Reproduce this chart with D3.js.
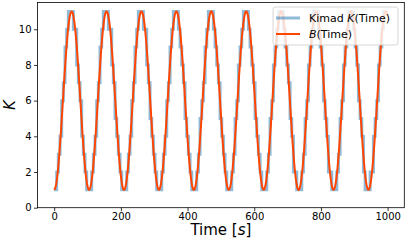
<!DOCTYPE html>
<html>
<head>
<meta charset="utf-8">
<script src="https://cdn.jsdelivr.net/npm/d3@7"></script>
<style>
  html, body { margin: 0; padding: 0; background: #fff; }
  svg { display: block; font-family: "DejaVu Sans", sans-serif; }
  .tick text { font-size: 10px; fill: #000; }
</style>
</head>
<body>
<div id="chart"></div>
<script>
// Time samples [s]
const time = [
  0, 5, 10, 15, 20, 25, 30, 35, 40, 45, 50, 55, 60, 65, 70, 75, 80, 85, 90, 95,
  100, 105, 110, 115, 120, 125, 130, 135, 140, 145, 150, 155, 160, 165, 170, 175, 180, 185, 190, 195,
  200, 205, 210, 215, 220, 225, 230, 235, 240, 245, 250, 255, 260, 265, 270, 275, 280, 285, 290, 295,
  300, 305, 310, 315, 320, 325, 330, 335, 340, 345, 350, 355, 360, 365, 370, 375, 380, 385, 390, 395,
  400, 405, 410, 415, 420, 425, 430, 435, 440, 445, 450, 455, 460, 465, 470, 475, 480, 485, 490, 495,
  500, 505, 510, 515, 520, 525, 530, 535, 540, 545, 550, 555, 560, 565, 570, 575, 580, 585, 590, 595,
  600, 605, 610, 615, 620, 625, 630, 635, 640, 645, 650, 655, 660, 665, 670, 675, 680, 685, 690, 695,
  700, 705, 710, 715, 720, 725, 730, 735, 740, 745, 750, 755, 760, 765, 770, 775, 780, 785, 790, 795,
  800, 805, 810, 815, 820, 825, 830, 835, 840, 845, 850, 855, 860, 865, 870, 875, 880, 885, 890, 895,
  900, 905, 910, 915, 920, 925, 930, 935, 940, 945, 950, 955, 960, 965, 970, 975, 980, 985, 990, 995,
  1000
];

// B(Time), smooth curve
const bValues = [
  1.00, 1.22, 1.87, 2.89, 4.19, 5.65, 7.14, 8.52, 9.69, 10.52, 10.95, 10.94, 10.48, 9.63, 8.45, 7.05, 5.56, 4.11, 2.83, 1.83, 1.20,
  1.00, 1.25, 1.92, 2.96, 4.27, 5.73, 7.22, 8.60, 9.74, 10.56, 10.96, 10.92, 10.45, 9.57, 8.38, 6.97, 5.48, 4.03, 2.76, 1.78, 1.18,
  1.00, 1.28, 1.97, 3.03, 4.35, 5.81, 7.30, 8.67, 9.80, 10.59, 10.97, 10.91, 10.41, 9.51, 8.30, 6.89, 5.40, 3.96, 2.70, 1.74, 1.15,
  1.01, 1.30, 2.02, 3.09, 4.43, 5.90, 7.38, 8.74, 9.85, 10.62, 10.98, 10.89, 10.37, 9.45, 8.23, 6.81, 5.31, 3.88, 2.64, 1.69, 1.13,
  1.01, 1.33, 2.07, 3.16, 4.51, 5.98, 7.46, 8.81, 9.91, 10.65, 10.99, 10.87, 10.32, 9.39, 8.15, 6.72, 5.23, 3.80, 2.57, 1.65, 1.12,
  1.02, 1.36, 2.13, 3.23, 4.59, 6.07, 7.54, 8.88, 9.96, 10.68, 10.99, 10.85, 10.28, 9.33, 8.08, 6.64, 5.15, 3.73, 2.51, 1.61, 1.10,
  1.03, 1.40, 2.18, 3.30, 4.67, 6.15, 7.62, 8.95, 10.01, 10.71, 11.00, 10.83, 10.24, 9.26, 8.00, 6.56, 5.06, 3.65, 2.45, 1.57, 1.08,
  1.03, 1.43, 2.23, 3.37, 4.75, 6.23, 7.70, 9.01, 10.06, 10.74, 11.00, 10.81, 10.19, 9.20, 7.92, 6.47, 4.98, 3.58, 2.39, 1.53, 1.07,
  1.05, 1.46, 2.29, 3.45, 4.83, 6.32, 7.78, 9.08, 10.11, 10.77, 11.00, 10.79, 10.15, 9.14, 7.84, 6.39, 4.90, 3.51, 2.34, 1.49, 1.06,
  1.06, 1.50, 2.35, 3.52, 4.91, 6.40, 7.86, 9.15, 10.15, 10.79, 11.00, 10.76
];

// Kimad K(Time), integer steps
const kValues = [
  1, 1, 2, 3, 4, 6, 7, 9, 10, 11, 11, 11, 10, 10, 8, 7, 6, 4, 3, 2, 1,
  1, 1, 2, 3, 4, 6, 7, 9, 10, 11, 11, 11, 10, 10, 8, 7, 5, 4, 3, 2, 1,
  1, 1, 2, 3, 4, 6, 7, 9, 10, 11, 11, 11, 10, 10, 8, 7, 5, 4, 3, 2, 1,
  1, 1, 2, 3, 4, 6, 7, 9, 10, 11, 11, 11, 10, 9, 8, 7, 5, 4, 3, 2, 1,
  1, 1, 2, 3, 5, 6, 7, 9, 10, 11, 11, 11, 10, 9, 8, 7, 5, 4, 3, 2, 1,
  1, 1, 2, 3, 5, 6, 8, 9, 10, 11, 11, 11, 10, 9, 8, 7, 5, 4, 3, 2, 1,
  1, 1, 2, 3, 5, 6, 8, 9, 10, 11, 11, 11, 10, 9, 8, 7, 5, 4, 2, 2, 1,
  1, 1, 2, 3, 5, 6, 8, 9, 10, 11, 11, 11, 10, 9, 8, 6, 5, 4, 2, 2, 1,
  1, 1, 2, 3, 5, 6, 8, 9, 10, 11, 11, 11, 10, 9, 8, 6, 5, 4, 2, 1, 1,
  1, 2, 2, 4, 5, 6, 8, 9, 10, 11, 11, 11
];

const xTicks = [0, 200, 400, 600, 800, 1000];
const yTicks = [0, 2, 4, 6, 8, 10];

const width = 407;
const height = 242;
const margin = { top: 2.5, right: 2.7, bottom: 34.3, left: 37.5 };

const svg = d3.select("#chart")
  .append("svg")
  .attr("width", width)
  .attr("height", height);

const x = d3.scaleLinear()
  .domain([-50, 1050])
  .range([margin.left, width - margin.right]);

const y = d3.scaleLinear()
  .domain([0, 11.5])
  .range([height - margin.bottom, margin.top]);

// series
const kLine = d3.line()
  .x((d, i) => x(time[i]))
  .y((d) => y(d))
  .curve(d3.curveStep);

const bLine = d3.line()
  .x((d, i) => x(time[i]))
  .y((d) => y(d))
  .curve(d3.curveNatural);

svg.append("path")
  .datum(kValues)
  .attr("fill", "none")
  .attr("stroke", "#1f77b4")
  .attr("stroke-opacity", 0.5)
  .attr("stroke-width", 3)
  .attr("d", kLine);

svg.append("path")
  .datum(bValues)
  .attr("fill", "none")
  .attr("stroke", "#ff4500")
  .attr("stroke-width", 2)
  .attr("d", bLine);

// axes
const xAxis = svg.append("g")
  .attr("transform", `translate(0,${height - margin.bottom})`)
  .call(d3.axisBottom(x).tickValues(xTicks).tickFormat(d3.format("d")).tickSize(3.5).tickPadding(1.5));

const yAxis = svg.append("g")
  .attr("transform", `translate(${margin.left},0)`)
  .call(d3.axisLeft(y).tickValues(yTicks).tickFormat(d3.format("d")).tickSize(3.5).tickPadding(2.5));

[xAxis, yAxis].forEach((g) => {
  g.select(".domain").remove();
  g.selectAll(".tick line").attr("stroke", "#000").attr("stroke-width", 0.8);
  g.selectAll(".tick text").attr("font-family", "DejaVu Sans").attr("font-size", 10);
});

// frame
svg.append("rect")
  .attr("x", margin.left)
  .attr("y", margin.top)
  .attr("width", width - margin.left - margin.right)
  .attr("height", height - margin.top - margin.bottom)
  .attr("fill", "none")
  .attr("stroke", "#000")
  .attr("stroke-width", 0.8);

// axis labels
const xLabel = svg.append("text")
  .attr("x", (margin.left + width - margin.right) / 2)
  .attr("y", 235)
  .attr("text-anchor", "middle")
  .attr("font-size", 15);
xLabel.append("tspan").text("Time [");
xLabel.append("tspan").attr("font-style", "italic").text("s");
xLabel.append("tspan").text("]");

svg.append("text")
  .attr("transform", `translate(15,${(margin.top + height - margin.bottom) / 2}) rotate(-90)`)
  .attr("text-anchor", "middle")
  .attr("font-size", 15)
  .attr("font-style", "italic")
  .text("K");

// legend
const legend = svg.append("g").attr("transform", "translate(273,7)");

legend.append("rect")
  .attr("width", 125)
  .attr("height", 38)
  .attr("rx", 2.5)
  .attr("fill", "#fff")
  .attr("fill-opacity", 0.8)
  .attr("stroke", "#ccc")
  .attr("stroke-width", 0.8);

const legendData = [
  { pre: "Kimad ", it: "K", post: "(Time)", color: "#1f77b4", opacity: 0.5, w: 3 },
  { pre: "", it: "B", post: "(Time)", color: "#ff4500", opacity: 1, w: 2 },
];

const item = legend.selectAll(".legend-item")
  .data(legendData)
  .enter()
  .append("g")
  .attr("class", "legend-item")
  .attr("transform", (_, i) => `translate(0,${11 + i * 16})`);

item.append("line")
  .attr("x1", 3)
  .attr("x2", 27)
  .attr("stroke", (d) => d.color)
  .attr("stroke-opacity", (d) => d.opacity)
  .attr("stroke-width", (d) => d.w);

const label = item.append("text")
  .attr("x", 36)
  .attr("y", 4)
  .attr("font-size", 11);
label.append("tspan").text((d) => d.pre);
label.append("tspan").attr("font-style", "italic").text((d) => d.it);
label.append("tspan").text((d) => d.post);
</script>
</body>
</html>
